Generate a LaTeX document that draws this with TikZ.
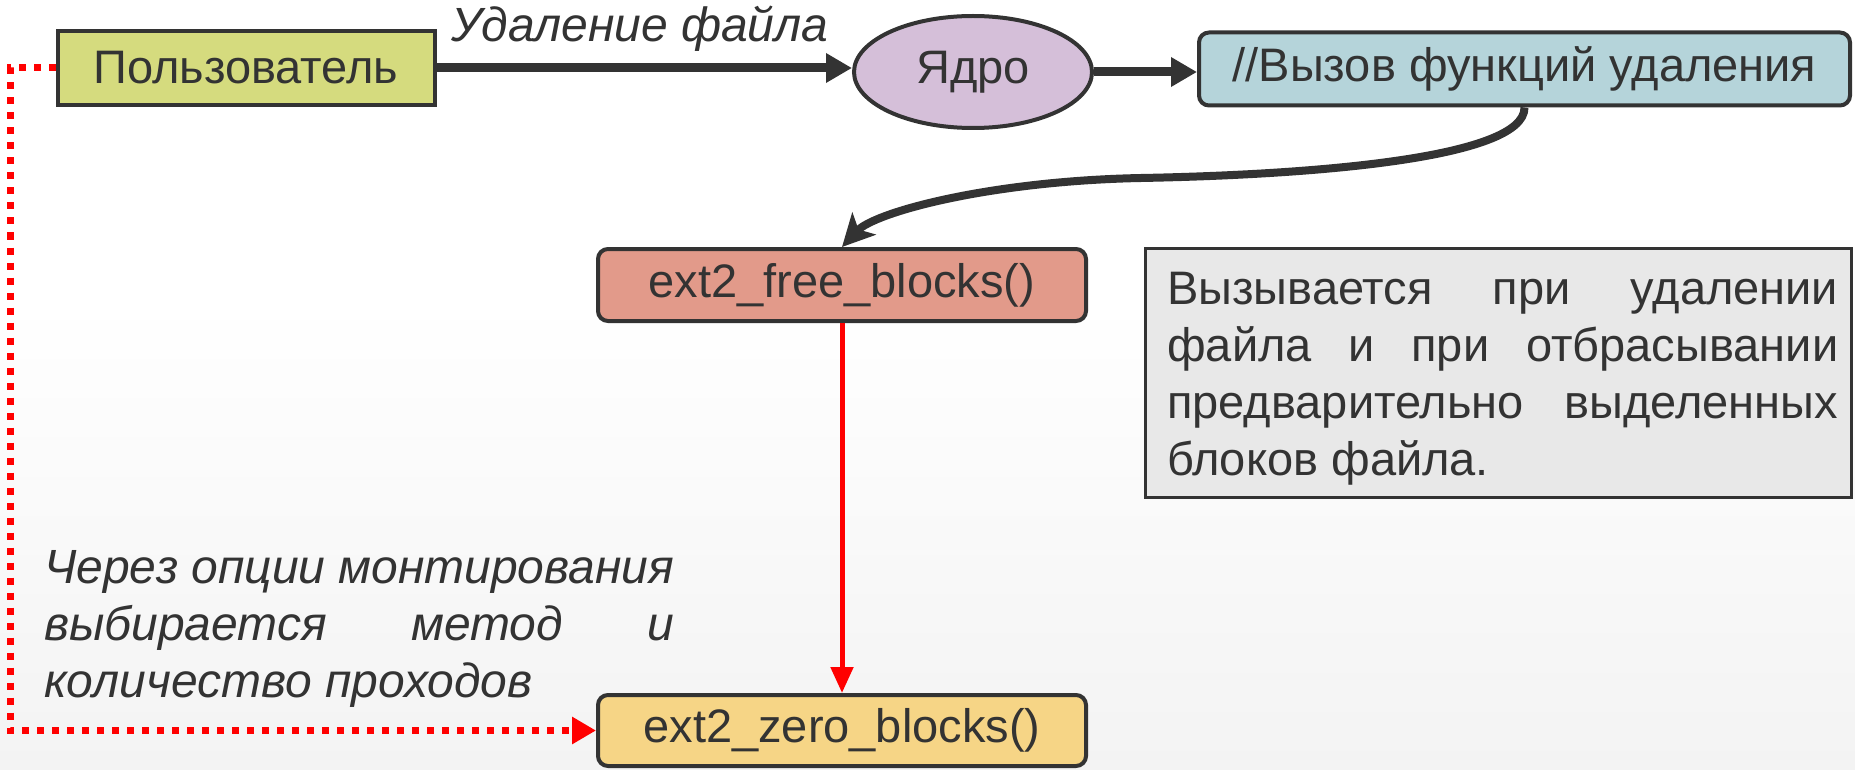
\documentclass[tikz,border=0pt]{standalone}
\usepackage{fontspec}
\setmainfont{Liberation Sans}
\usetikzlibrary{arrows.meta,shapes.geometric}
\definecolor{edgec}{HTML}{333333}
\definecolor{txtc}{HTML}{333333}
\definecolor{userc}{HTML}{D5DB7E}
\definecolor{corec}{HTML}{D5BFD9}
\definecolor{callc}{HTML}{B5D4DA}
\definecolor{freec}{HTML}{E29A8A}
\definecolor{notec}{HTML}{E8E8E8}
\definecolor{zeroc}{HTML}{F6D586}
\definecolor{redc}{HTML}{FF0000}
\definecolor{bgbot}{HTML}{F3F3F3}
\begin{document}
\begin{tikzpicture}[x=1pt,y=-1pt,
  box/.style={draw=edgec, line width=4pt, text=txtc, inner sep=0pt,
    font=\fontsize{47}{57}\selectfont},
  rbox/.style={box, rounded corners=10pt},
  lbl/.style={text=txtc, inner sep=0pt, font=\fontsize{48}{57}\selectfont\itshape},
  blk/.style={draw=edgec, line width=9pt, -{Triangle[length=26pt,width=28pt]}},
  blkcurve/.style={draw=edgec, line width=8pt, -{Stealth[length=32pt,width=32pt,inset=8pt]}},
  redline/.style={draw=redc, line width=5pt, -{Triangle[length=26pt,width=22pt]}},
  reddot/.style={draw=redc, line width=7pt, dash pattern=on 7pt off 8pt,
    -{Triangle[length=24pt,width=26pt]}}
]
\useasboundingbox (0,0) rectangle (1855,770);
\shade[top color=white, bottom color=bgbot] (0,300) rectangle (1855,770);
\fill[white] (0,0) rectangle (1855,300);

\node[box, fill=userc, minimum width=377pt, minimum height=74pt] (user) at (246,68) {Пользователь};
\node[box, ellipse, fill=corec, minimum width=238pt, minimum height=112pt] (core) at (973,72) {Ядро};
\node[rbox, fill=callc, minimum width=651pt, minimum height=73pt] (call) at (1524.5,69) {//Вызов функций удаления};
\node[rbox, fill=freec, minimum width=488pt, minimum height=72pt] (free) at (842,285) {ext2\_free\_blocks()};
\node[box, line width=3pt, fill=notec, minimum width=706pt, minimum height=249pt] (note) at (1498.5,372.5) {};
\node[rbox, fill=zeroc, minimum width=488pt, minimum height=71pt] (zero) at (842,730.5) {ext2\_zero\_blocks()};

\node[text=txtc, inner sep=0pt, font=\fontsize{47}{57}\selectfont, anchor=base west] (notetext) at (1167,304)
  {\parbox[t]{671pt}{\makebox[671pt][s]{Вызывается при удалении}\\
   \makebox[671pt][s]{файла и при отбрасывании}\\
   \makebox[671pt][s]{предварительно выделенных}\\
   блоков файла.}};

\node[lbl, anchor=base] (dellbl) at (640,42) {Удаление файла};
\node[lbl, anchor=base west] (mountlbl) at (44,583)
  {\parbox[t]{630pt}{\makebox[630pt][s]{Через опции монтирования}\\
   \makebox[630pt][s]{выбирается метод и}\\
   количество проходов}};

\coordinate (bend) at (10,0);
\coordinate (mid) at (1141,178);

\draw[blk] (user.east) -- (user.east -| core.west);
\draw[blk] (core.east) -- (core.east -| call.west);
\draw[blkcurve] (call.south) .. controls (1525,160) and (1300,175) .. (mid)
  .. controls (990,181) and (875,212) .. (free.north);
\draw[redline] (free.south) -- (zero.north);
\draw[reddot] (user.west) -- (user.west -| bend) |- (zero.west);
\end{tikzpicture}
\end{document}
